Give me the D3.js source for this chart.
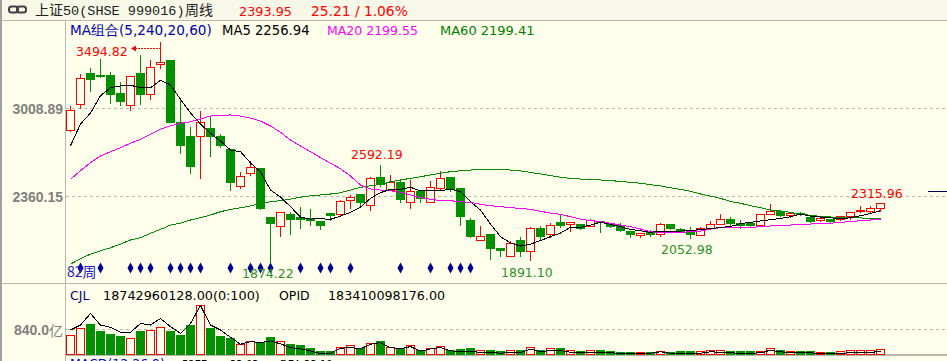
<!DOCTYPE html>
<html>
<head>
<meta charset="utf-8">
<script src="https://d3js.org/d3.v7.min.js"></script>
<style>
html, body { margin: 0; padding: 0; background: #ffffeb; overflow: hidden; }
svg { display: block; }
text { font-family: "DejaVu Sans", sans-serif; font-size: 12.5px; }
</style>
</head>
<body>
<svg id="chart"></svg>
<script>
const opens = [2847,3036,3266,3249,3244,3112,3026,3259,3107,3327,
  3355,2906,2803,2803,2855,2796,2701,2431,2529,2561,
  2201,2140,2223,2208,2196,2174,2237,2225,2328,2370,
  2291,2500,2406,2463,2318,2397,2318,2419,2500,2421,
  2186,2039,2076,1973,1916,2032,1956,2127,2081,2164,
  2154,2154,2140,2174,2157,2144,2105,2071,2093,2081,
  2154,2118,2100,2071,2122,2154,2191,2162,2159,2144,
  2228,2250,2221,2237,2206,2184,2191,2193,2213,2247,
  2250,2269];
const closes = [2987,3227,3215,3237,3107,3053,3242,3107,3303,3345,
  2899,2730,2578,2899,2803,2737,2460,2507,2573,2267,
  2159,2243,2193,2193,2181,2144,2218,2323,2348,2311,
  2493,2445,2465,2333,2397,2343,2426,2493,2412,2215,
  2068,2066,1973,1963,2010,1951,2127,2068,2149,2149,
  2169,2120,2181,2164,2137,2107,2078,2088,2081,2154,
  2127,2098,2081,2127,2154,2191,2159,2144,2144,2228,
  2250,2218,2235,2230,2174,2198,2174,2210,2243,2257,
  2272,2309];
const highs = [3024,3266,3310,3369,3274,3200,3244,3399,3362,3494.82,
  3362,3078,2870,2994,2950,2818,2715,2539,2622,2573,
  2210,2252,2245,2282,2267,2179,2243,2333,2370,2384,
  2509,2592.19,2517,2485,2487,2401,2473,2553,2500,2421,
  2206,2142,2083,1982,2037,2068,2135,2142,2171,2223,
  2173,2162,2198,2179,2169,2169,2105,2088,2113,2166,
  2157,2129,2135,2140,2179,2232,2210,2191,2166,2228,
  2309,2260,2243,2252,2206,2203,2195,2215,2247,2289,
  2289,2315.96];
const lows = [2833,3002,3127,3235,3039,3024,2987,3031,3075,3296,
  2899,2673,2531,2490,2656,2717,2401,2416,2512,2260,
  1874.22,2068,2083,2127,2149,2113,2186,2215,2267,2296,
  2259,2431,2401,2318,2274,2318,2313,2412,2397,2149,
  2054,2034,1899,1916,1916,1921,1891.10,2039,2056,2132,
  2098,2113,2137,2093,2129,2105,2057,2058,2063,2066,
  2113,2093,2052.98,2071,2118,2154,2149,2120,2132,2141,
  2223,2215,2206,2218,2171,2174,2167,2186,2188,2240,
  2240,2250];
const ma5 = [2732,2891,2972,3099,3158,3171,3176,3158,3158,3213,
  3178,3073,2972,2891,2823,2766,2700,2688,2605,2541,
  2406,2355,2284,2208,2193,2195,2191,2215,2242,2281,
  2345,2387,2411,2411,2426,2401,2399,2401,2414,2394,
  2320,2259,2156,2063,2019,1995,2009,2035,2064,2090,
  2132,2132,2149,2169,2154,2137,2117,2107,2095,2105,
  2105,2105,2107,2117,2122,2132,2138,2160,2169,2179,
  2188,2198,2210,2230,2215,2208,2203,2195,2203,2217,
  2235,2254];
const ma20 = [2485,2548,2607,2656,2688,2717,2750,2779,2816,2853,
  2877,2897,2908,2928,2950,2955,2958,2950,2935,2913,
  2877,2830,2774,2730,2688,2644,2603,2563,2509,2443,
  2414,2406,2401,2389,2370,2351,2338,2328,2328,2320,
  2316,2301,2291,2284,2276,2272,2264,2250,2237,2228,
  2210,2193,2181,2174,2162,2149,2137,2120,2100,2095,
  2095,2095,2100,2105,2120,2129,2132,2132,2132,2137,
  2142,2147,2149,2154,2156,2162,2162,2169,2174,2181,
  2186,2191];
const ma60 = [1862,1901,1936,1960,1982,2009,2039,2056,2088,2117,
  2149,2162,2186,2203,2223,2247,2264,2276,2289,2309,
  2320,2328,2340,2353,2364,2370,2377,2386,2406,2426,
  2438,2448,2467,2480,2492,2504,2517,2529,2541,2548,
  2553,2558,2558,2558,2553,2546,2536,2524,2513,2500,
  2492,2487,2485,2480,2475,2470,2463,2456,2445,2436,
  2423,2411,2397,2377,2362,2345,2322,2309,2291,2276,
  2259,2252,2242,2230,2220,2213,2208,2206,2203,2201,
  2198,2198];
const volumes = [638,870,1015,751,651,585,539,751,784,903,
  751,618,982,1630,883,585,529,321,420,397,
  572,440,321,288,188,89,89,241,308,208,
  374,420,241,208,308,142,208,274,142,175,
  188,142,142,109,142,142,241,142,208,208,
  142,109,142,142,89,76,76,76,56,109,
  56,89,89,89,142,142,109,109,89,109,
  208,122,89,89,89,56,56,89,142,142,
  142,175];
const volumeMa = [817,982,1366,982,903,737,737,1035,982,1200,
  926,704,1035,1630,982,817,572,341,430,397,
  453,354,231,188,122,23,43,208,231,188,
  341,397,231,188,265,109,188,231,122,99,
  99,76,76,43,66,66,175,99,132,132,
  76,56,76,76,56,43,43,43,43,89,
  43,43,43,43,89,76,56,43,43,56,
  142,89,66,66,56,33,33,43,56,56,
  66,109];
const signalWeeks = [1,3,6,7,8,10,11,12,13,16,18,19,20,23,25,26,28,33,36,38,39,40];
const priceTicks = [3008.89, 2360.15];
const volumeTicks = [840];
const lastPrice = 2393.95;
const extremes = [
  {label: "3494.82", x: 76, y: 56, color: "#ff0000"},
  {label: "2592.19", x: 351, y: 159, color: "#ff0000"},
  {label: "2315.96", x: 851, y: 198, color: "#ff0000"},
  {label: "1874.22", x: 242, y: 278, color: "#2f8f2f"},
  {label: "1891.10", x: 501, y: 277, color: "#2f8f2f"},
  {label: "2052.98", x: 661, y: 254, color: "#2f8f2f"}
];

const WIDTH = 947, HEIGHT = 361;
const AXIS_X = 65.5;
const RED = "#ff0000", GREEN = "#009000", BG = "#ffffeb", GRID = "#b8b8b0";

const svg = d3.select("#chart").attr("width", WIDTH).attr("height", HEIGHT);
svg.append("rect").attr("width", WIDTH).attr("height", HEIGHT).attr("fill", BG);

const weeks = d3.range(opens.length);
const xScale = d3.scaleBand().domain(weeks).range([65.5, 885.5]);
const center = i => xScale(i) + xScale.bandwidth() / 2;
const yPrice = d3.scaleLinear().domain([2360.15, 3008.89]).range([196.3, 108]);
const yVolume = d3.scaleLinear().domain([0, 840]).range([354.5, 329.3]);
const snap = v => Math.round(v - 0.5) + 0.5;
const isUp = i => closes[i] >= opens[i];

// header band
svg.append("rect").attr("width", WIDTH).attr("height", 20).attr("fill", "#f8f8e8");
const frame = svg.append("g").attr("shape-rendering", "crispEdges");
frame.append("line").attr("x1", 0).attr("x2", WIDTH).attr("y1", 20.5).attr("y2", 20.5).attr("stroke", GRID);
frame.append("line").attr("x1", 0).attr("x2", WIDTH).attr("y1", 283.5).attr("y2", 283.5).attr("stroke", GRID);
frame.append("line").attr("x1", 66).attr("x2", WIDTH).attr("y1", 355).attr("y2", 355).attr("stroke", GRID).attr("stroke-width", 2);
frame.append("line").attr("x1", AXIS_X).attr("x2", AXIS_X).attr("y1", 21).attr("y2", HEIGHT).attr("stroke", GRID);
frame.append("rect").attr("x", 0).attr("y", 0).attr("width", 2).attr("height", HEIGHT).attr("fill", "#a0a0a0");

// chain icon
const icon = svg.append("g").attr("fill", "none").attr("stroke", "#404040").attr("stroke-width", 2);
icon.append("rect").attr("x", 9).attr("y", 6.5).attr("width", 9).attr("height", 6).attr("rx", 2.5);
icon.append("rect").attr("x", 17).attr("y", 6.5).attr("width", 9).attr("height", 6).attr("rx", 2.5);

const addText = (s, x, y, color, extra) => {
  const t = svg.append("text").attr("x", x).attr("y", y).attr("fill", color).text(s);
  if (extra) extra(t);
  return t;
};
const sized = px => t => t.style("font-size", px + "px");
const cjk = t => t.style("font-family", "'Noto Sans CJK SC'").style("font-size", "14px");
const mono = t => t.style("font-family", "'Liberation Mono'").style("font-size", "13.5px");
const axisLabel = t => t.attr("text-anchor", "end").style("font-family", "'Liberation Sans'").style("font-weight", "bold").style("font-size", "14px");

addText("上证", 35, 15, "#202020", cjk);
addText("50(SHSE 999016)", 63, 15, "#202020", mono);
addText("周线", 185, 15, "#202020", cjk);
addText("2393.95", 239, 16, RED, sized(12.8));
addText("25.21 / 1.06%", 311, 16, RED, sized(13.8));

addText("MA组合(5,240,20,60)", 70, 35, "#0000b0", sized(13.6));
addText("MA5 2256.94", 222, 35, "#000000", sized(13.2));
addText("MA20 2199.55", 327, 35, "#ff00ff");
addText("MA60 2199.41", 440, 35, "#008000", sized(13));

addText("CJL", 70, 300, "#000080");
addText("18742960128.00(0:100)", 103, 300, "#000000", sized(12.8));
addText("OPID", 279, 300, "#000000");
addText("183410098176.00", 328, 300, "#000000", sized(12.7));

addText("MACD(12,26,9)", 70, 368, "#0000b0");
addText("5277", 182, 368, "#000000", sized(10));
addText("33.03", 230, 368, "#000000", sized(10));
addText("DEA 33.19", 280, 368, "#000000", sized(10));

// grid lines and axis labels
const grid = svg.append("g").attr("shape-rendering", "crispEdges");
priceTicks.forEach(d => {
  const y = snap(yPrice(d));
  grid.append("line").attr("x1", 66).attr("x2", WIDTH).attr("y1", y).attr("y2", y)
    .attr("stroke", GRID).attr("stroke-dasharray", "3,3");
  addText(d.toFixed(2), 63, y + 5, "#808080", axisLabel);
});
volumeTicks.forEach(d => {
  const y = snap(yVolume(d));
  grid.append("line").attr("x1", 66).attr("x2", WIDTH).attr("y1", y).attr("y2", y)
    .attr("stroke", GRID).attr("stroke-dasharray", "3,3");
  addText(d.toFixed(1), 49, y + 5, "#808080", axisLabel);
  addText("亿", 63, y + 6, "#808080", t => t.attr("text-anchor", "end").style("font-family", "'Noto Sans CJK SC'").style("font-size", "14px"));
});

// candles
const candle = svg.append("g").attr("shape-rendering", "crispEdges");
candle.selectAll(".wick").data(weeks).join("line")
  .attr("class", "wick")
  .attr("x1", center).attr("x2", center)
  .attr("y1", i => snap(yPrice(highs[i])))
  .attr("y2", i => snap(yPrice(lows[i])))
  .attr("stroke", i => isUp(i) ? RED : GREEN);
candle.selectAll(".body").data(weeks).join("rect")
  .attr("class", "body")
  .attr("x", i => center(i) - 4)
  .attr("width", 8)
  .attr("y", i => snap(yPrice(Math.max(opens[i], closes[i]))))
  .attr("height", i => Math.max(1, snap(yPrice(Math.min(opens[i], closes[i]))) - snap(yPrice(Math.max(opens[i], closes[i])))))
  .attr("fill", i => isUp(i) ? BG : GREEN)
  .attr("stroke", i => isUp(i) ? RED : GREEN);

// moving averages
const priceLine = d3.line().x((d, i) => center(i)).y(d => yPrice(d));
[[ma60, "#008c00"], [ma20, "#ff00ff"], [ma5, "#000000"]].forEach(([values, color]) => {
  svg.append("path").attr("d", priceLine(values)).attr("fill", "none")
    .attr("stroke", color).attr("stroke-width", 1).attr("shape-rendering", "crispEdges");
});

// volume
const volume = svg.append("g").attr("shape-rendering", "crispEdges");
volume.selectAll("rect").data(weeks).join("rect")
  .attr("x", i => center(i) - 4)
  .attr("width", 8)
  .attr("y", i => snap(yVolume(volumes[i])))
  .attr("height", i => Math.max(1, 354.5 - snap(yVolume(volumes[i]))))
  .attr("fill", i => isUp(i) ? BG : GREEN)
  .attr("stroke", i => isUp(i) ? RED : GREEN);
svg.append("path")
  .attr("d", d3.line().x((d, i) => center(i)).y(d => yVolume(d))(volumeMa))
  .attr("fill", "none").attr("stroke", "#000000").attr("shape-rendering", "crispEdges");

// signal diamonds
svg.append("g").selectAll("path").data(signalWeeks).join("path")
  .attr("d", d3.line()([[0, -5.5], [3, 0], [0, 5.5], [-3, 0]]) + "Z")
  .attr("transform", i => `translate(${center(i)},268)`)
  .attr("fill", "#000090");

addText("82周", 67, 277, "#2020c0", t => t.style("font-family", "'Noto Sans CJK SC'").style("font-size", "14px"));

// extreme labels
extremes.forEach(d => addText(d.label, d.x, d.y, d.color));

// arrow to the highest week
const arrowY = 48.5;
svg.append("line").attr("x1", 135).attr("x2", 160).attr("y1", arrowY).attr("y2", arrowY)
  .attr("stroke", RED).attr("stroke-dasharray", "2,1").attr("shape-rendering", "crispEdges");
svg.append("path").attr("d", d3.line()([[131, arrowY], [136, arrowY - 3], [136, arrowY + 3]]) + "Z").attr("fill", RED);

// last price marker
svg.append("line").attr("x1", 928).attr("x2", WIDTH)
  .attr("y1", snap(yPrice(lastPrice))).attr("y2", snap(yPrice(lastPrice)))
  .attr("stroke", "#000050").attr("shape-rendering", "crispEdges");
</script>
</body>
</html>
